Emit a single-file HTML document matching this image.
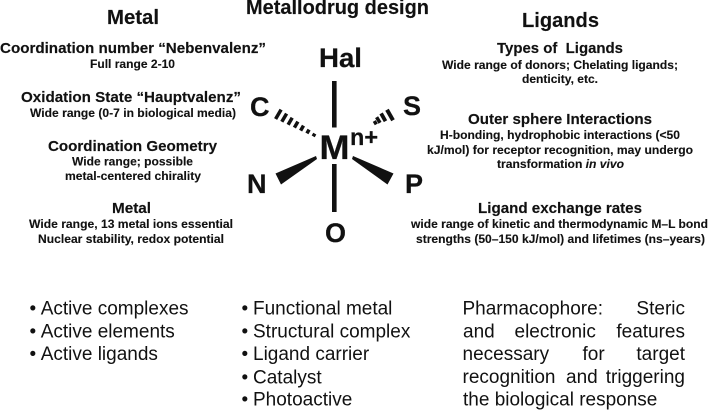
<!DOCTYPE html>
<html><head><meta charset="utf-8"><style>
html,body{margin:0;padding:0;background:#fff}
svg{display:block}
text{font-family:"Liberation Sans",sans-serif;fill:#111}
.b{font-weight:700;stroke:#111;stroke-width:.25}
.h{font-weight:700;font-size:15px;stroke:#111;stroke-width:.15}
.s{font-weight:700;font-size:12px;stroke:#111;stroke-width:.12}
.t{font-weight:700;font-size:20px;stroke:#111;stroke-width:.15}
.a{font-weight:700;font-size:27px;stroke:#111;stroke-width:.25}
.r{font-size:19px}
</style></head><body>
<svg width="709" height="410" viewBox="0 0 709 410" xmlns="http://www.w3.org/2000/svg">
<text class="t" x="246" y="14" textLength="183" lengthAdjust="spacingAndGlyphs">Metallodrug design</text>
<text class="t" x="107" y="24" textLength="52" lengthAdjust="spacingAndGlyphs">Metal</text>
<text class="t" x="522" y="27" textLength="77" lengthAdjust="spacingAndGlyphs">Ligands</text>

<text class="h" x="0" y="53" textLength="266" lengthAdjust="spacingAndGlyphs">Coordination number “Nebenvalenz”</text>
<text class="s" x="90" y="68" textLength="85" lengthAdjust="spacingAndGlyphs">Full range 2-10</text>
<text class="h" x="21" y="102" textLength="220" lengthAdjust="spacingAndGlyphs">Oxidation State “Hauptvalenz”</text>
<text class="s" x="30" y="117" textLength="206" lengthAdjust="spacingAndGlyphs">Wide range (0-7 in biological media)</text>
<text class="h" x="48" y="151" textLength="169" lengthAdjust="spacingAndGlyphs">Coordination Geometry</text>
<text class="s" x="72" y="165.5" textLength="121" lengthAdjust="spacingAndGlyphs">Wide range; possible</text>
<text class="s" x="65" y="180" textLength="136" lengthAdjust="spacingAndGlyphs">metal-centered chirality</text>
<text class="h" x="112" y="213" textLength="39" lengthAdjust="spacingAndGlyphs">Metal</text>
<text class="s" x="29" y="228" textLength="204" lengthAdjust="spacingAndGlyphs">Wide range, 13 metal ions essential</text>
<text class="s" x="38" y="243" textLength="186" lengthAdjust="spacingAndGlyphs">Nuclear stability, redox potential</text>

<text class="h" x="497" y="53" textLength="126" lengthAdjust="spacingAndGlyphs" xml:space="preserve">Types of  Ligands</text>
<text class="s" x="442" y="69" textLength="236" lengthAdjust="spacingAndGlyphs">Wide range of donors; Chelating ligands;</text>
<text class="s" x="522" y="83" textLength="76" lengthAdjust="spacingAndGlyphs">denticity, etc.</text>
<text class="h" x="468" y="124" textLength="184" lengthAdjust="spacingAndGlyphs">Outer sphere Interactions</text>
<text class="s" x="440" y="139" textLength="240" lengthAdjust="spacingAndGlyphs">H-bonding, hydrophobic interactions (&lt;50</text>
<text class="s" x="427" y="154" textLength="266" lengthAdjust="spacingAndGlyphs">kJ/mol) for receptor recognition, may undergo</text>
<text class="s" x="497" y="168" textLength="127" lengthAdjust="spacingAndGlyphs">transformation <tspan font-style="italic">in vivo</tspan></text>
<text class="h" x="478" y="213" textLength="164" lengthAdjust="spacingAndGlyphs">Ligand exchange rates</text>
<text class="s" x="411" y="228" textLength="297" lengthAdjust="spacingAndGlyphs">wide range of kinetic and thermodynamic M–L bond</text>
<text class="s" x="416" y="243" textLength="289" lengthAdjust="spacingAndGlyphs">strengths (50–150 kJ/mol) and lifetimes (ns–years)</text>

<text class="a" x="319" y="67" textLength="43" lengthAdjust="spacingAndGlyphs">Hal</text>
<text class="a" x="250" y="116">C</text>
<text class="a" x="403" y="115">S</text>
<text class="a" x="247" y="193">N</text>
<text class="a" x="405" y="193">P</text>
<text class="a" x="325" y="242">O</text>
<text class="b" font-size="34" x="319.5" y="159" textLength="30" lengthAdjust="spacingAndGlyphs">M</text>
<text class="b" font-size="23" x="350" y="145" textLength="28" lengthAdjust="spacingAndGlyphs">n+</text>

<rect x="332" y="81" width="4.6" height="46.5" fill="#111"/>
<rect x="332" y="164" width="4.6" height="48" fill="#111"/>
<polygon points="316,156 317,159 281,184.5 275.5,173.5" fill="#111"/>
<polygon points="353,156 352,159 387.5,184.5 393.5,173.5" fill="#111"/>

<g stroke="#111" stroke-width="3.5" fill="none">
<line x1="281.1" y1="109.6" x2="275.6" y2="119"/>
<line x1="286.6" y1="113.6" x2="281.8" y2="121.8"/>
<line x1="292.2" y1="117.7" x2="288.1" y2="124.7"/>
<line x1="297.9" y1="121.6" x2="294.4" y2="127.6"/>
<line x1="303.5" y1="125.6" x2="300.6" y2="130.6"/>
<line x1="309.1" y1="129.6" x2="306.9" y2="133.4"/>
<line x1="314.8" y1="133.6" x2="313.2" y2="136.4"/>
<line x1="393" y1="120.2" x2="387" y2="109.8" stroke-width="4"/>
<line x1="385.5" y1="121.2" x2="381.1" y2="113.4" stroke-width="3.8"/>
<line x1="380" y1="122.8" x2="376.6" y2="117.2"/>
<line x1="376.3" y1="124.4" x2="374.3" y2="121"/>
</g>

<text class="r" x="29.5" y="314.3">•</text><text class="r" x="40.7" y="314.3">Active complexes</text>
<text class="r" x="29.5" y="337.3">•</text><text class="r" x="40.7" y="337.3">Active elements</text>
<text class="r" x="29.5" y="360">•</text><text class="r" x="40.7" y="360">Active ligands</text>

<text class="r" x="241.5" y="314.3">•</text><text class="r" x="253" y="314.3">Functional metal</text>
<text class="r" x="241.5" y="337.3">•</text><text class="r" x="253" y="337.3">Structural complex</text>
<text class="r" x="241.5" y="360">•</text><text class="r" x="253" y="360">Ligand carrier</text>
<text class="r" x="241.5" y="383.3">•</text><text class="r" x="253" y="383.3">Catalyst</text>
<text class="r" x="241.5" y="405.7">•</text><text class="r" x="253" y="405.7">Photoactive</text>

<text class="r" x="462.5" y="314.5">Pharmacophore:</text><text class="r" x="685" y="314.5" text-anchor="end">Steric</text>
<text class="r" x="463" y="337.3">and</text><text class="r" x="514.5" y="337.3">electronic</text><text class="r" x="685" y="337.3" text-anchor="end">features</text>
<text class="r" x="462.5" y="360">necessary</text><text class="r" x="582.5" y="360">for</text><text class="r" x="685" y="360" text-anchor="end">target</text>
<text class="r" x="462.5" y="382.8">recognition</text><text class="r" x="566" y="382.8">and</text><text class="r" x="685" y="382.8" text-anchor="end">triggering</text>
<text class="r" x="463" y="405.7">the biological response</text>
</svg>
</body></html>
